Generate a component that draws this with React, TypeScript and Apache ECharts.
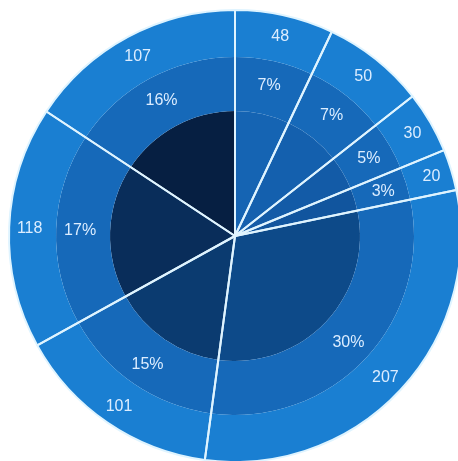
import React, { useEffect, useRef } from "react";
import * as echarts from "echarts";

const categories = ["A", "B", "C", "D", "E", "F", "G", "H"];
const values = [48, 50, 30, 20, 207, 101, 118, 107];
const innerColors = ["#1564b3", "#1460ae", "#135ba7", "#11559e", "#0d4a89", "#0b3b70", "#092d5a", "#061f42"];

export default function App() {
  const ref = useRef<HTMLDivElement>(null);
  useEffect(() => {
    if (!ref.current) return;
    const chart = echarts.init(ref.current, undefined, { renderer: "svg" });
    const base = categories.map((n, i) => ({ name: n, value: values[i] }));
    const center = [235, 236];
    const labelStyle = {
      show: true,
      position: "inside",
      color: "#dcedff",
      fontSize: 16,
      fontFamily: "Liberation Sans, Arial, sans-serif",
    };
    chart.setOption({
      animation: false,
      series: [
        {
          type: "pie",
          center,
          radius: [0, 125],
          startAngle: 90,
          silent: true,
          label: { show: false },
          labelLine: { show: false },
          data: base.map((d, i) => ({ ...d, itemStyle: { color: innerColors[i] } })),
        },
        {
          type: "pie",
          center,
          radius: [125, 179],
          startAngle: 90,
          silent: true,
          percentPrecision: 0,
          itemStyle: { color: "#1669b9" },
          label: { ...labelStyle, formatter: "{d}%" },
          labelLine: { show: false },
          data: base,
        },
        {
          type: "pie",
          center,
          radius: [179, 226],
          startAngle: 90,
          silent: true,
          itemStyle: { color: "#1a7fd2" },
          label: { ...labelStyle, formatter: "{c}" },
          labelLine: { show: false },
          data: base,
        },
        {
          type: "pie",
          center,
          radius: [0, 226],
          startAngle: 90,
          silent: true,
          itemStyle: { color: "rgba(0,0,0,0)", borderColor: "#dff4ff", borderWidth: 2 },
          label: { show: false },
          labelLine: { show: false },
          data: base,
        },
      ],
    });
    return () => chart.dispose();
  }, []);
  return (
    <div
      ref={ref}
      style={{ position: "fixed", left: 0, top: 0, width: 458, height: 461 }}
    />
  );
}
